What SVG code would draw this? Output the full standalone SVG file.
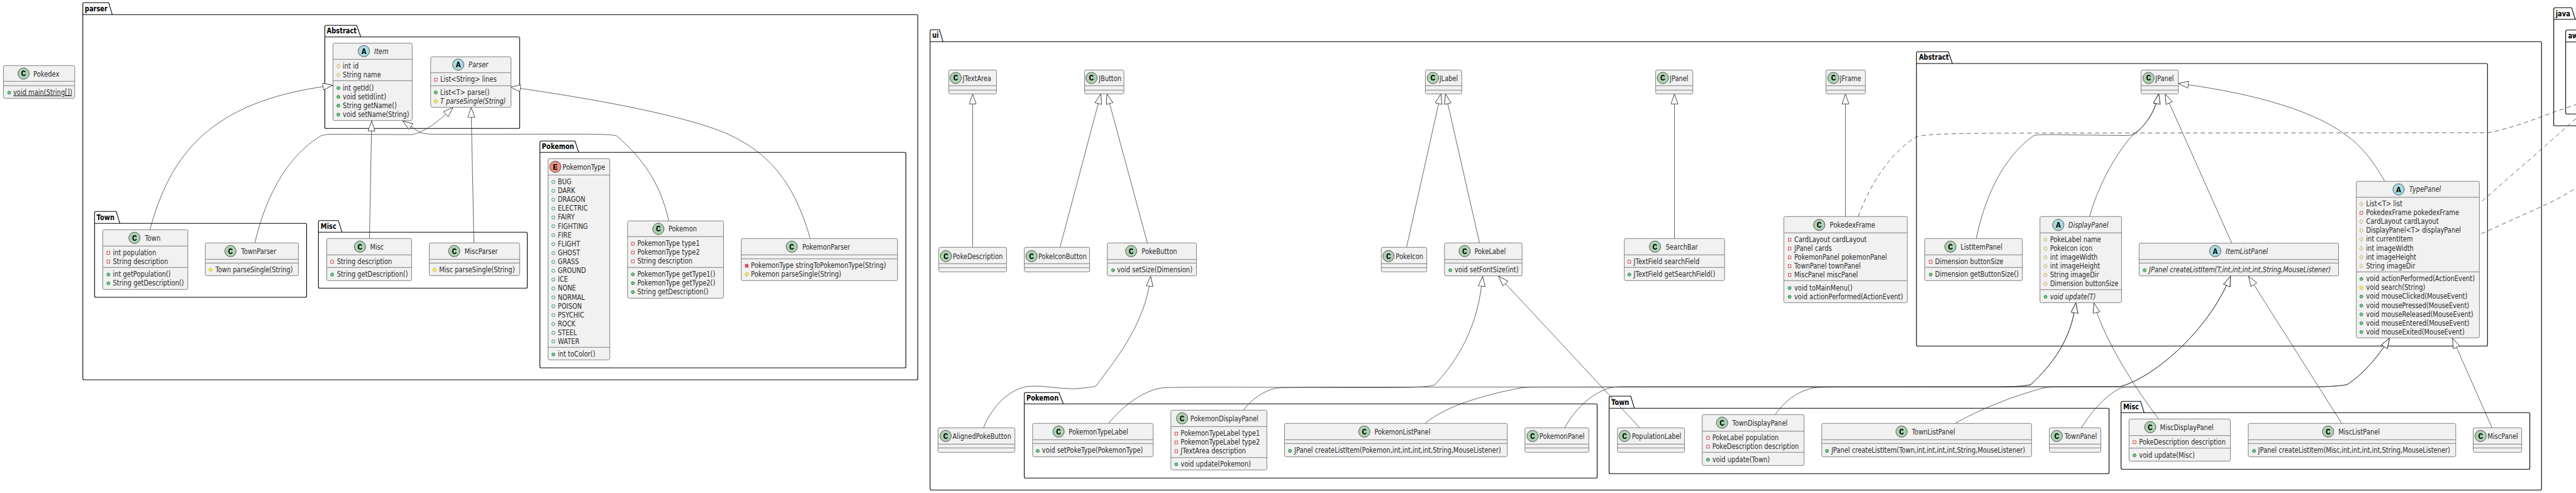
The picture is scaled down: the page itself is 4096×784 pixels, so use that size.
<svg xmlns="http://www.w3.org/2000/svg" width="4096" height="784" viewBox="0 0 4096 784">
<style>
text{font-family:"DejaVu Sans",sans-serif;font-size:12.1px;fill:#2a2a2a}
.i{font-style:italic}
.u{text-decoration:underline}
.p{font-weight:bold;fill:#000}
.pk{fill:none;stroke:#000;stroke-width:1.1}
.b{fill:#f1f1f1;stroke:#808080;stroke-width:1}
.l{fill:none;stroke:#808080;stroke-width:1}
.cc,.ca,.ce{stroke:#333;stroke-width:.8}
.cc{fill:#add1b2}.ca{fill:#a9dcdf}.ce{fill:#eb937f}
.k{font-family:"Liberation Mono",monospace;font-weight:bold;font-size:13px;text-anchor:middle;fill:#000}
.c{fill:none;stroke:#222;stroke-width:.7;marker-end:url(#h)}
.d{fill:none;stroke:#222;stroke-width:.7;stroke-dasharray:7 5}
</style>
<defs>
<marker id="h" markerUnits="userSpaceOnUse" markerWidth="18" markerHeight="13" refX="16.5" refY="6" orient="auto"><path d="M.5,.5L16.5,6L.5,11.5Z" fill="#fff" stroke="#222" stroke-width=".8"/></marker>
<circle id="pub" r="2.5" fill="#84be84" stroke="#038048" stroke-width=".8"/>
<circle id="pubo" r="2.5" fill="none" stroke="#038048" stroke-width=".8"/>
<rect id="pri" x="-2.2" y="-2.4" width="4.4" height="4.8" fill="none" stroke="#c82930" stroke-width=".8"/>
<rect id="prif" x="-2.2" y="-2.4" width="4.4" height="4.8" fill="#f24d5c" stroke="#c82930" stroke-width=".8"/>
<polygon id="pro" points="0,-3.3 2.8,0 0,3.3 -2.8,0" fill="none" stroke="#b38d22" stroke-width=".8"/>
<polygon id="proy" points="0,-3.3 2.8,0 0,3.3 -2.8,0" fill="#ffff44" stroke="#b38d22" stroke-width=".8"/>
</defs>
<g id="packages">
<g id="pkg-parser"><path class="pk" d="M131.7,23.3V6.8q0-2.5 2.5-2.5H172.8L178.6,23.3H1457.3q2,0 2,2V602q0,2-2,2H133.7q-2,0-2-2ZM131.7,23.3H178.6"/><text class="p" transform="translate(134.8 17.7) scale(.818 1)">parser</text></g>
<g id="pkg-parser-abstract"><path class="pk" d="M516.5,58.7V42.8q0-2.5 2.5-2.5H567L573.7,58.7H824.3q2,0 2,2V202.3q0,2-2,2H518.5q-2,0-2-2ZM516.5,58.7H573.7"/><text class="p" transform="translate(519.6 53.3) scale(.818 1)">Abstract</text></g>
<g id="pkg-parser-town"><path class="pk" d="M150.4,355.3V338.8q0-2.5 2.5-2.5H184.8L190.6,355.3H485.5q2,0 2,2V470.7q0,2-2,2H152.4q-2,0-2-2ZM150.4,355.3H190.6"/><text class="p" transform="translate(153.6 350) scale(.818 1)">Town</text></g>
<g id="pkg-parser-misc"><path class="pk" d="M506.3,369.3V353.2q0-2.5 2.5-2.5H538L543.8,369.3H836.4q2,0 2,2V456.3q0,2-2,2H508.3q-2,0-2-2ZM506.3,369.3H543.8"/><text class="p" transform="translate(509.8 364) scale(.818 1)">Misc</text></g>
<g id="pkg-parser-pokemon"><path class="pk" d="M858.5,242.3V226.8q0-2.5 2.5-2.5H914.3L920.1,242.3H1438.4q2,0 2,2V583q0,2-2,2H860.5q-2,0-2-2ZM858.5,242.3H920.1"/><text class="p" transform="translate(861.6 237.3) scale(.818 1)">Pokemon</text></g>
<g id="pkg-ui"><path class="pk" d="M1478.9,66.3V49.8q0-2.5 2.5-2.5H1493.8L1499.5,66.3H4039.2q2,0 2,2V777.3q0,2-2,2H1480.9q-2,0-2-2ZM1478.9,66.3H1499.5"/><text class="p" transform="translate(1482.3 60) scale(.818 1)">ui</text></g>
<g id="pkg-ui-abstract"><path class="pk" d="M3047.3,101V84.8q0-2.5 2.5-2.5H3097.9L3104.4,101H3953.3q2,0 2,2V548.3q0,2-2,2H3049.3q-2,0-2-2ZM3047.3,101H3104.4"/><text class="p" transform="translate(3051.2 95.3) scale(.818 1)">Abstract</text></g>
<g id="pkg-ui-pokemon"><path class="pk" d="M1628.7,642.3V626.8q0-2.5 2.5-2.5H1683.8L1690.7,642.3H2537.6q2,0 2,2V758.3q0,2-2,2H1630.7q-2,0-2-2ZM1628.7,642.3H1690.7"/><text class="p" transform="translate(1632 637) scale(.818 1)">Pokemon</text></g>
<g id="pkg-ui-town"><path class="pk" d="M2558.6,649.3V632.5q0-2.5 2.5-2.5H2593L2598.7,649.3H3351.5q2,0 2,2V751.3q0,2-2,2H2560.6q-2,0-2-2ZM2558.6,649.3H2598.7"/><text class="p" transform="translate(2562 644) scale(.818 1)">Town</text></g>
<g id="pkg-ui-misc"><path class="pk" d="M3372.6,656.3V640.8q0-2.5 2.5-2.5H3403.6L3409.4,656.3H4020.6q2,0 2,2V744.3q0,2-2,2H3374.6q-2,0-2-2ZM3372.6,656.3H3409.4"/><text class="p" transform="translate(3376 651) scale(.818 1)">Misc</text></g>
<g id="pkg-java"><path class="pk" d="M4060.6,30.7V14.8q0-2.5 2.5-2.5H4089L4094.8,30.7H4110V200H4062.6q-2,0-2-2ZM4060.6,30.7H4094.8"/><text class="p" transform="translate(4063.7 25.7) scale(.818 1)">java</text></g>
<g id="pkg-awt"><path class="pk" d="M4079.6,66.7V50.2q0-2.5 2.5-2.5H4110M4110,66.7H4079.6M4110,181.3H4081.6q-2,0-2-2V66.7"/><text class="p" transform="translate(4083.4 60.7) scale(.818 1)">awt</text></g>
</g>
<g id="connectors">
<path class="c" d="M238.4,365C270,250 330,160 529.5,135.7"/>
<path class="c" d="M405.4,386C415,345 440,260 508.9,216.7C515,213.5 525,213.5 536,213.5L656,214C680,208 700,190 720.5,170.7"/>
<path class="c" d="M587.5,379.3L591,192.3"/>
<path class="c" d="M753.6,386.3L749.1,170.7"/>
<path class="c" d="M1063.4,351.3C1050,290 1020,250 980.4,216C970,213.5 950,213.3 900,213.3L712.5,213.5C690,213.5 680,214 667.9,210.7L640.2,192.3"/>
<path class="c" d="M1288.3,379.3C1260,280 1215,240 1157.4,213.3C1110,192 1000,165 811.6,138.3"/>
<path class="c" d="M1546.6,393.3V149.3"/>
<path class="c" d="M1685.5,393.3L1750.4,149.3"/>
<path class="c" d="M1824.4,386.3L1760.2,149.3"/>
<path class="c" d="M1563.8,680.3C1580,640 1610,618 1633.9,614.5C1660,612 1695,621 1720,617.3C1730,616 1738,616 1743,613.3C1780,565 1822,510 1829.6,439.3"/>
<path class="c" d="M2236.5,393.3L2291,149.3"/>
<path class="c" d="M2352.5,386.3L2298.5,149.3"/>
<path class="c" d="M2662.5,379.3V149.3"/>
<path class="c" d="M2934.4,344.3V149.3"/>
<path class="c" d="M1763,673.3C1785,645 1820,620 1849,616.7C1900,614 2200,618 2250,615.7C2265,615 2275,614 2281.3,612C2320,570 2350,520 2357.6,439.3"/>
<path class="c" d="M2607.3,680.3L2382.9,439.3"/>
<path class="c" d="M1977.2,652.3C1990,635 2008,622 2028.7,617.3C2040,615.5 2100,615.5 2200,615.5L3180,615.5C3200,615 3220,614 3229,611.7C3265,578 3293,540 3300.7,481.7"/>
<path class="c" d="M2822.6,659.3C2840,635 2860,622 2884,616.7C2890,615.5 2920,615.5 2950,615.5L3180,615.5C3200,615 3220,614 3229,611.7C3265,578 3293,540 3300.7,481.7"/>
<path class="c" d="M3432.7,666.3C3400,625 3345,540 3329.4,481.7"/>
<path class="c" d="M2265.8,673.3C2300,645 2360,628 2416.2,617.3C2425,615.5 2435,615.5 2450,615.5L3370,615C3420,603 3510,530 3546.7,439.3"/>
<path class="c" d="M3108.6,673.3C3150,650 3200,630 3250.2,616.7C3260,615 3280,615 3300,615L3370,615C3420,603 3510,530 3546.7,439.3"/>
<path class="c" d="M3723.5,673.3L3575.3,439.3"/>
<path class="c" d="M2488,680.3C2505,650 2530,625 2562.6,616C2575,614.5 2590,615 2610,615L3680,615C3700,615 3720,614 3731.8,611.7C3755,597 3780,570 3799.5,537.7"/>
<path class="c" d="M3309.5,680.3C3322,660 3345,630 3372.6,616.7C3385,615 3400,615.5 3420,615.5L3680,615.5C3700,615 3720,614 3731.8,611.7C3755,597 3780,570 3799.5,537.7"/>
<path class="c" d="M3962.5,680.3L3899.5,537.7"/>
<path class="c" d="M3142.3,379.3C3155,320 3180,255 3233,216C3240,213.5 3260,214 3290,214.5L3380,215.5C3385,215.5 3390,215 3393,213C3415,197 3428,175 3432,149.3"/>
<path class="c" d="M3322.5,344.3C3335,300 3360,250 3389.9,216C3415,200 3428,170 3433,149.3"/>
<path class="c" d="M3548.7,386.7L3442.7,149.3"/>
<path class="c" d="M3791.9,288.3C3770,250 3750,228 3728,213.3C3670,170 3560,145 3463.7,132.7"/>
<path class="d" d="M2954.7,344.3C2975,290 3005,245 3045.4,218.3C3060,213 3100,212 3213.8,211.7L3956,211C3990,205 4030,190 4060.6,178.3L4100,165"/>
<path class="d" d="M3946.6,320L4041.6,236.7L4100,185"/>
<path class="d" d="M3945.5,371.7L4041.6,328.3C4060,320 4080,310 4100,296"/>
</g>
<g id="Pokedex"><rect class="b" x="5.4" y="104.3" width="113.4" height="52" rx="2.5"/><path class="l" d="M5.4,129.3H118.8M5.4,136.3H118.8"/><circle class="cc" cx="37.5" cy="117" r="9"/><text class="k" x="37.5" y="121">C</text><text transform="translate(53.1 121.5) scale(.818 1)">Pokedex</text><use href="#pub" x="14.7" y="147.3"/><text class="u" transform="translate(21 150.7) scale(.818 1)">void main(String[])</text></g>
<g id="Item"><rect class="b" x="529.5" y="68.7" width="125.9" height="123" rx="2.5"/><path class="l" d="M529.5,94.3H655.4M529.5,128.3H655.4"/><circle class="ca" cx="578.6" cy="81.3" r="9"/><text class="k" x="578.6" y="85.5">A</text><text class="i" transform="translate(595 86) scale(.818 1)">Item</text>
<use href="#pro" x="538" y="105.3"/><use href="#pro" x="538" y="119.3"/><use href="#pub" x="538" y="140"/><use href="#pub" x="538" y="154.1"/><use href="#pub" x="538" y="168.1"/><use href="#pub" x="538" y="182.3"/>
<g transform="translate(545.1 0) scale(.818 1)"><text y="109">int id</text><text y="123">String name</text><text y="143.7">int getId()</text><text y="157.8">void setId(int)</text><text y="171.8">String getName()</text><text y="186">void setName(String)</text></g></g>
<g id="Parser"><rect class="b" x="684.8" y="90.3" width="127.7" height="80.4" rx="2.5"/><path class="l" d="M684.8,115.7H812.5M684.8,136.3H812.5"/><circle class="ca" cx="728.6" cy="102.7" r="9"/><text class="k" x="728.6" y="106.9">A</text><text class="i" transform="translate(745 107.3) scale(.818 1)">Parser</text>
<use href="#pri" x="692.9" y="126.7"/><use href="#pub" x="692.9" y="147"/><use href="#proy" x="692.9" y="161"/>
<g transform="translate(700 0) scale(.818 1)"><text y="130.3">List&lt;String&gt; lines</text><text y="150.7">List&lt;T&gt; parse()</text><text class="i" y="164.7">T parseSingle(String)</text></g></g>
<g id="Town"><rect class="b" x="163.4" y="365.3" width="135.3" height="95" rx="2.5"/><path class="l" d="M163.4,391.3H298.7M163.4,425.3H298.7"/><circle class="cc" cx="213.8" cy="378.3" r="9"/><text class="k" x="213.8" y="382.5">C</text><text transform="translate(230.4 382.7) scale(.818 1)">Town</text>
<use href="#pri" x="172.3" y="402"/><use href="#pri" x="172.3" y="416"/><use href="#pub" x="172.3" y="436.6"/><use href="#pub" x="172.3" y="450.6"/>
<g transform="translate(179.5 0) scale(.818 1)"><text y="405.7">int population</text><text y="419.7">String description</text><text y="440.3">int getPopulation()</text><text y="454.3">String getDescription()</text></g></g>
<g id="TownParser"><rect class="b" x="326.3" y="386.3" width="148.3" height="52" rx="2.5"/><path class="l" d="M326.3,412.3H474.6M326.3,418.3H474.6"/><circle class="cc" cx="366.5" cy="399.3" r="9"/><text class="k" x="366.5" y="403.5">C</text><text transform="translate(383.5 403.7) scale(.818 1)">TownParser</text><use href="#proy" x="334.8" y="429"/><text transform="translate(342.4 433) scale(.818 1)">Town parseSingle(String)</text></g>
<g id="Misc"><rect class="b" x="519.6" y="379.3" width="134.9" height="67" rx="2.5"/><path class="l" d="M519.6,405.3H654.5M519.6,425.3H654.5"/><circle class="cc" cx="572.3" cy="392.3" r="9"/><text class="k" x="572.3" y="396.5">C</text><text transform="translate(588.4 397) scale(.818 1)">Misc</text><use href="#pri" x="528.1" y="416.3"/><use href="#pub" x="528.1" y="436.6"/>
<g transform="translate(535.7 0) scale(.818 1)"><text y="420">String description</text><text y="440.3">String getDescription()</text></g></g>
<g id="MiscParser"><rect class="b" x="682.6" y="386.3" width="143.7" height="52" rx="2.5"/><path class="l" d="M682.6,412.3H826.3M682.6,418.3H826.3"/><circle class="cc" cx="722.3" cy="399.3" r="9"/><text class="k" x="722.3" y="403.5">C</text><text transform="translate(738.8 403.7) scale(.818 1)">MiscParser</text><use href="#proy" x="691" y="429"/><text transform="translate(698.2 433) scale(.818 1)">Misc parseSingle(String)</text></g>
<g id="PokemonType"><rect class="b" x="871.4" y="252.3" width="98.2" height="320" rx="2.5"/><path class="l" d="M871.4,278.3H969.6M871.4,552.3H969.6"/><circle class="ce" cx="883" cy="265.3" r="9"/><text class="k" x="883" y="269.5">E</text><text transform="translate(894.6 270) scale(.818 1)">PokemonType</text>
<use href="#pubo" x="879.9" y="289.3"/><use href="#pubo" x="879.9" y="303.4"/><use href="#pubo" x="879.9" y="317.6"/><use href="#pubo" x="879.9" y="331.7"/><use href="#pubo" x="879.9" y="345.8"/><use href="#pubo" x="879.9" y="359.9"/><use href="#pubo" x="879.9" y="374"/><use href="#pubo" x="879.9" y="388.2"/><use href="#pubo" x="879.9" y="402.3"/><use href="#pubo" x="879.9" y="416.4"/><use href="#pubo" x="879.9" y="430.5"/><use href="#pubo" x="879.9" y="444.6"/><use href="#pubo" x="879.9" y="458.7"/><use href="#pubo" x="879.9" y="472.9"/><use href="#pubo" x="879.9" y="487"/><use href="#pubo" x="879.9" y="501.1"/><use href="#pubo" x="879.9" y="515.2"/><use href="#pubo" x="879.9" y="529.3"/><use href="#pubo" x="879.9" y="543"/><use href="#pub" x="879.9" y="563.7"/>
<g transform="translate(887 0) scale(.818 1)"><text y="293">BUG</text><text y="307.1">DARK</text><text y="321.3">DRAGON</text><text y="335.4">ELECTRIC</text><text y="349.5">FAIRY</text><text y="363.6">FIGHTING</text><text y="377.7">FIRE</text><text y="391.9">FLIGHT</text><text y="406">GHOST</text><text y="420.1">GRASS</text><text y="434.2">GROUND</text><text y="448.3">ICE</text><text y="462.4">NONE</text><text y="476.6">NORMAL</text><text y="490.7">POISON</text><text y="504.8">PSYCHIC</text><text y="518.9">ROCK</text><text y="533">STEEL</text><text y="546.7">WATER</text><text y="567.3">int toColor()</text></g></g>
<g id="Pokemon"><rect class="b" x="997.8" y="351.3" width="152.6" height="123" rx="2.5"/><path class="l" d="M997.8,376.3H1150.4M997.8,425.3H1150.4"/><circle class="cc" cx="1046.9" cy="364" r="9"/><text class="k" x="1046.9" y="368.2">C</text><text transform="translate(1062.9 368.3) scale(.818 1)">Pokemon</text>
<use href="#pri" x="1006.3" y="387.6"/><use href="#pri" x="1006.3" y="401.6"/><use href="#pri" x="1006.3" y="415.6"/><use href="#pub" x="1006.3" y="436.3"/><use href="#pub" x="1006.3" y="450.3"/><use href="#pub" x="1006.3" y="464.5"/>
<g transform="translate(1013.4 0) scale(.818 1)"><text y="391.3">PokemonType type1</text><text y="405.3">PokemonType type2</text><text y="419.3">String description</text><text y="440">PokemonType getType1()</text><text y="454">PokemonType getType2()</text><text y="468.2">String getDescription()</text></g></g>
<g id="PokemonParser"><rect class="b" x="1178.6" y="379.3" width="248.6" height="67" rx="2.5"/><path class="l" d="M1178.6,405.3H1427.2M1178.6,411.7H1427.2"/><circle class="cc" cx="1259" cy="392.3" r="9"/><text class="k" x="1259" y="396.5">C</text><text transform="translate(1275.7 397) scale(.818 1)">PokemonParser</text><use href="#prif" x="1187.3" y="422.6"/><use href="#proy" x="1187.3" y="436.3"/>
<g transform="translate(1194.1 0) scale(.818 1)"><text y="426.3">PokemonType stringToPokemonType(String)</text><text y="440.3">Pokemon parseSingle(String)</text></g></g>
<g id="JTextArea"><rect class="b" x="1508.7" y="111.3" width="75.8" height="38" rx="2.5"/><path class="l" d="M1508.7,136.3H1584.5M1508.7,143.3H1584.5"/><circle class="cc" cx="1519.6" cy="124" r="9"/><text class="k" x="1519.6" y="128.2">C</text><text transform="translate(1530.5 128.7) scale(.818 1)">JTextArea</text></g>
<g id="JButton"><rect class="b" x="1724.6" y="111.3" width="62.5" height="38" rx="2.5"/><path class="l" d="M1724.6,136.3H1787.1M1724.6,143.3H1787.1"/><circle class="cc" cx="1735.5" cy="124" r="9"/><text class="k" x="1735.5" y="128.2">C</text><text transform="translate(1747 128.7) scale(.818 1)">JButton</text></g>
<g id="JLabel"><rect class="b" x="2266.4" y="111.3" width="57.9" height="38" rx="2.5"/><path class="l" d="M2266.4,136.3H2324.3M2266.4,143.3H2324.3"/><circle class="cc" cx="2278.4" cy="124" r="9"/><text class="k" x="2278.4" y="128.2">C</text><text transform="translate(2288.7 128.7) scale(.818 1)">JLabel</text></g>
<g id="JPanel-ui"><rect class="b" x="2632.6" y="111.3" width="59.1" height="38" rx="2.5"/><path class="l" d="M2632.6,136.3H2691.7M2632.6,143.3H2691.7"/><circle class="cc" cx="2644" cy="124" r="9"/><text class="k" x="2644" y="128.2">C</text><text transform="translate(2655 128.7) scale(.818 1)">JPanel</text></g>
<g id="JFrame"><rect class="b" x="2903.4" y="111.3" width="62.8" height="38" rx="2.5"/><path class="l" d="M2903.4,136.3H2966.2M2903.4,143.3H2966.2"/><circle class="cc" cx="2915.3" cy="124" r="9"/><text class="k" x="2915.3" y="128.2">C</text><text transform="translate(2925.6 128.7) scale(.818 1)">JFrame</text></g>
<g id="JPanel-abstract"><rect class="b" x="3404.4" y="111.3" width="59.3" height="38" rx="2.5"/><path class="l" d="M3404.4,136.3H3463.7M3404.4,143.3H3463.7"/><circle class="cc" cx="3416.3" cy="124" r="9"/><text class="k" x="3416.3" y="128.2">C</text><text transform="translate(3427 128.7) scale(.818 1)">JPanel</text></g>
<g id="PokeDescription"><rect class="b" x="1492.7" y="393.3" width="107.9" height="39" rx="2.5"/><path class="l" d="M1492.7,419.3H1600.6M1492.7,425.7H1600.6"/><circle class="cc" cx="1504.1" cy="407.3" r="9"/><text class="k" x="1504.1" y="411.5">C</text><text transform="translate(1515 411.5) scale(.818 1)">PokeDescription</text></g>
<g id="PokeIconButton"><rect class="b" x="1628.7" y="393.3" width="103.9" height="39" rx="2.5"/><path class="l" d="M1628.7,419.3H1732.6M1628.7,425.7H1732.6"/><circle class="cc" cx="1640.2" cy="407.3" r="9"/><text class="k" x="1640.2" y="411.5">C</text><text transform="translate(1651 411.5) scale(.818 1)">PokeIconButton</text></g>
<g id="PokeButton"><rect class="b" x="1760.7" y="386.3" width="141.8" height="52.4" rx="2.5"/><path class="l" d="M1760.7,412.7H1902.5M1760.7,418.3H1902.5"/><circle class="cc" cx="1798.6" cy="399.3" r="9"/><text class="k" x="1798.6" y="403.5">C</text><text transform="translate(1815.3 403.7) scale(.818 1)">PokeButton</text><use href="#pub" x="1769.9" y="429.7"/><text transform="translate(1776.2 433.3) scale(.818 1)">void setSize(Dimension)</text></g>
<g id="AlignedPokeButton"><rect class="b" x="1491.5" y="680.3" width="122.3" height="39" rx="2.5"/><path class="l" d="M1491.5,706.3H1613.8M1491.5,712.3H1613.8"/><circle class="cc" cx="1503.6" cy="693.3" r="9"/><text class="k" x="1503.6" y="697.5">C</text><text transform="translate(1514.5 698) scale(.818 1)">AlignedPokeButton</text></g>
<g id="PokeIcon"><rect class="b" x="2196.3" y="393.3" width="72.4" height="39" rx="2.5"/><path class="l" d="M2196.3,419.3H2268.7M2196.3,425.7H2268.7"/><circle class="cc" cx="2207.8" cy="407.3" r="9"/><text class="k" x="2207.8" y="411.5">C</text><text transform="translate(2219.3 411.5) scale(.818 1)">PokeIcon</text></g>
<g id="PokeLabel"><rect class="b" x="2296.8" y="386.3" width="123.4" height="52.4" rx="2.5"/><path class="l" d="M2296.8,412.7H2420.2M2296.8,418.3H2420.2"/><circle class="cc" cx="2328.9" cy="399.3" r="9"/><text class="k" x="2328.9" y="403.5">C</text><text transform="translate(2344.4 403.7) scale(.818 1)">PokeLabel</text><use href="#pub" x="2306" y="429.7"/><text transform="translate(2312.9 433.3) scale(.818 1)">void setFontSize(int)</text></g>
<g id="SearchBar"><rect class="b" x="2582.7" y="379.3" width="159.5" height="67" rx="2.5"/><path class="l" d="M2582.7,405.3H2742.2M2582.7,425.3H2742.2"/><circle class="cc" cx="2631.5" cy="392.3" r="9"/><text class="k" x="2631.5" y="396.5">C</text><text transform="translate(2648.7 396.8) scale(.818 1)">SearchBar</text><use href="#pri" x="2590.7" y="416.3"/><use href="#pub" x="2590.7" y="436.6"/>
<g transform="translate(2597.6 0) scale(.818 1)"><text y="420">JTextField searchField</text><text y="440.3">JTextField getSearchField()</text></g></g>
<g id="PokedexFrame"><rect class="b" x="2836.4" y="344.3" width="196.4" height="137" rx="2.5"/><path class="l" d="M2836.4,370.3H3032.8M2836.4,446.3H3032.8"/><circle class="cc" cx="2892.7" cy="357.7" r="9"/><text class="k" x="2892.7" y="361.9">C</text><text transform="translate(2909.6 362) scale(.818 1)">PokedexFrame</text>
<use href="#pri" x="2845.6" y="381.3"/><use href="#pri" x="2845.6" y="395.3"/><use href="#pri" x="2845.6" y="409.3"/><use href="#pri" x="2845.6" y="423.3"/><use href="#pri" x="2845.6" y="437.3"/><use href="#pub" x="2845.6" y="458"/><use href="#pub" x="2845.6" y="472"/>
<g transform="translate(2853 0) scale(.818 1)"><text y="385">CardLayout cardLayout</text><text y="399">JPanel cards</text><text y="413">PokemonPanel pokemonPanel</text><text y="427">TownPanel townPanel</text><text y="441">MiscPanel miscPanel</text><text y="461.7">void toMainMenu()</text><text y="475.7">void actionPerformed(ActionEvent)</text></g></g>
<g id="ListItemPanel"><rect class="b" x="3060.4" y="379.3" width="155.3" height="67" rx="2.5"/><path class="l" d="M3060.4,405.3H3215.7M3060.4,425.3H3215.7"/><circle class="cc" cx="3101.3" cy="392.3" r="9"/><text class="k" x="3101.3" y="396.5">C</text><text transform="translate(3117.4 396.8) scale(.818 1)">ListItemPanel</text><use href="#pri" x="3069.9" y="416.3"/><use href="#pub" x="3069.9" y="436.6"/>
<g transform="translate(3076.8 0) scale(.818 1)"><text y="420">Dimension buttonSize</text><text y="440.3">Dimension getButtonSize()</text></g></g>
<g id="DisplayPanel"><rect class="b" x="3243.7" y="344.3" width="129.7" height="137" rx="2.5"/><path class="l" d="M3243.7,370.3H3373.4M3243.7,460.7H3373.4"/><circle class="ca" cx="3272.8" cy="357.7" r="9"/><text class="k" x="3272.8" y="361.9">A</text><text class="i" transform="translate(3288.8 362) scale(.818 1)">DisplayPanel</text>
<use href="#pro" x="3252.5" y="381.3"/><use href="#pro" x="3252.5" y="395.3"/><use href="#pro" x="3252.5" y="409.3"/><use href="#pro" x="3252.5" y="423.3"/><use href="#pro" x="3252.5" y="437.3"/><use href="#pro" x="3252.5" y="451.3"/><use href="#pub" x="3252.5" y="472"/>
<g transform="translate(3259.7 0) scale(.818 1)"><text y="385">PokeLabel name</text><text y="399">PokeIcon icon</text><text y="413">int imageWidth</text><text y="427">int imageHeight</text><text y="441">String imageDir</text><text y="455">Dimension buttonSize</text><text class="i" y="475.7">void update(T)</text></g></g>
<g id="ItemListPanel"><rect class="b" x="3401.3" y="386.7" width="317.2" height="52" rx="2.5"/><path class="l" d="M3401.3,412.7H3718.5M3401.3,418.3H3718.5"/><circle class="ca" cx="3522.4" cy="399.3" r="9"/><text class="k" x="3522.4" y="403.5">A</text><text class="i" transform="translate(3539.1 403.7) scale(.818 1)">ItemListPanel</text><use href="#pub" x="3410.1" y="429.7"/><text class="i" transform="translate(3417 433.3) scale(.818 1)">JPanel createListItem(T,int,int,int,int,String,MouseListener)</text></g>
<g id="TypePanel"><rect class="b" x="3746.7" y="288.3" width="195.7" height="249" rx="2.5"/><path class="l" d="M3746.7,313.7H3942.4M3746.7,432.3H3942.4"/><circle class="ca" cx="3813.9" cy="301.3" r="9"/><text class="k" x="3813.9" y="305.5">A</text><text class="i" transform="translate(3830.7 305.3) scale(.818 1)">TypePanel</text>
<use href="#pro" x="3754.7" y="324.6"/><use href="#pri" x="3754.7" y="338.6"/><use href="#pro" x="3754.7" y="352.6"/><use href="#pro" x="3754.7" y="366.6"/><use href="#pro" x="3754.7" y="380.8"/><use href="#pro" x="3754.7" y="395"/><use href="#pro" x="3754.7" y="409"/><use href="#pro" x="3754.7" y="423"/><use href="#pub" x="3754.7" y="443.6"/><use href="#proy" x="3754.7" y="457.6"/><use href="#pub" x="3754.7" y="471.6"/><use href="#pub" x="3754.7" y="486"/><use href="#pub" x="3754.7" y="500"/><use href="#pub" x="3754.7" y="514"/><use href="#pub" x="3754.7" y="528"/>
<g transform="translate(3762.3 0) scale(.818 1)"><text y="328.3">List&lt;T&gt; list</text><text y="342.3">PokedexFrame pokedexFrame</text><text y="356.3">CardLayout cardLayout</text><text y="370.3">DisplayPanel&lt;T&gt; displayPanel</text><text y="384.5">int currentItem</text><text y="398.7">int imageWidth</text><text y="412.7">int imageHeight</text><text y="426.7">String imageDir</text><text y="447.3">void actionPerformed(ActionEvent)</text><text y="461.3">void search(String)</text><text y="475.3">void mouseClicked(MouseEvent)</text><text y="489.7">void mousePressed(MouseEvent)</text><text y="503.7">void mouseReleased(MouseEvent)</text><text y="517.7">void mouseEntered(MouseEvent)</text><text y="531.7">void mouseExited(MouseEvent)</text></g></g>
<g id="PokemonTypeLabel"><rect class="b" x="1641.9" y="673.3" width="191.7" height="53" rx="2.5"/><path class="l" d="M1641.9,699.3H1833.6M1641.9,705.3H1833.6"/><circle class="cc" cx="1683.2" cy="686.3" r="9"/><text class="k" x="1683.2" y="690.5">C</text><text transform="translate(1699.3 691) scale(.818 1)">PokemonTypeLabel</text><use href="#pub" x="1650" y="717"/><text transform="translate(1656.8 720.3) scale(.818 1)">void setPokeType(PokemonType)</text></g>
<g id="PokemonDisplayPanel"><rect class="b" x="1861.8" y="652.3" width="152.6" height="95" rx="2.5"/><path class="l" d="M1861.8,678.3H2014.4M1861.8,727.7H2014.4"/><circle class="cc" cx="1879.6" cy="665.3" r="9"/><text class="k" x="1879.6" y="669.5">C</text><text transform="translate(1892.8 670) scale(.818 1)">PokemonDisplayPanel</text><use href="#pri" x="1870.4" y="689.6"/><use href="#pri" x="1870.4" y="703.6"/><use href="#pri" x="1870.4" y="717.6"/><use href="#pub" x="1870.4" y="738.3"/>
<g transform="translate(1877.3 0) scale(.818 1)"><text y="693.3">PokemonTypeLabel type1</text><text y="707.3">PokemonTypeLabel type2</text><text y="721.3">JTextArea description</text><text y="742">void update(Pokemon)</text></g></g>
<g id="PokemonListPanel"><rect class="b" x="2042.5" y="673.3" width="354.2" height="53" rx="2.5"/><path class="l" d="M2042.5,699.3H2396.7M2042.5,705.3H2396.7"/><circle class="cc" cx="2169.3" cy="686.3" r="9"/><text class="k" x="2169.3" y="690.5">C</text><text transform="translate(2185.4 691) scale(.818 1)">PokemonListPanel</text><use href="#pub" x="2051.1" y="717"/><text transform="translate(2058 720.3) scale(.818 1)">JPanel createListItem(Pokemon,int,int,int,int,String,MouseListener)</text></g>
<g id="PokemonPanel"><rect class="b" x="2424.8" y="680.3" width="101.6" height="39" rx="2.5"/><path class="l" d="M2424.8,706.3H2526.4M2424.8,712.3H2526.4"/><circle class="cc" cx="2436.9" cy="693.3" r="9"/><text class="k" x="2436.9" y="697.5">C</text><text transform="translate(2447.8 698) scale(.818 1)">PokemonPanel</text></g>
<g id="PopulationLabel"><rect class="b" x="2571.8" y="680.3" width="106.7" height="39" rx="2.5"/><path class="l" d="M2571.8,706.3H2678.5M2571.8,712.3H2678.5"/><circle class="cc" cx="2583.2" cy="693.3" r="9"/><text class="k" x="2583.2" y="697.5">C</text><text transform="translate(2594.7 698) scale(.818 1)">PopulationLabel</text></g>
<g id="TownDisplayPanel"><rect class="b" x="2706.7" y="659.3" width="161.9" height="81" rx="2.5"/><path class="l" d="M2706.7,685.7H2868.6M2706.7,719.3H2868.6"/><circle class="cc" cx="2738.2" cy="672.3" r="9"/><text class="k" x="2738.2" y="676.5">C</text><text transform="translate(2754.3 677.3) scale(.818 1)">TownDisplayPanel</text><use href="#pri" x="2715.9" y="696.3"/><use href="#pri" x="2715.9" y="710.3"/><use href="#pub" x="2715.9" y="731"/>
<g transform="translate(2722.7 0) scale(.818 1)"><text y="700">PokeLabel population</text><text y="714">PokeDescription description</text><text y="734.7">void update(Town)</text></g></g>
<g id="TownListPanel"><rect class="b" x="2896.7" y="673.3" width="333.6" height="53" rx="2.5"/><path class="l" d="M2896.7,699.3H3230.3M2896.7,705.3H3230.3"/><circle class="cc" cx="3023.6" cy="686.3" r="9"/><text class="k" x="3023.6" y="690.5">C</text><text transform="translate(3040 691) scale(.818 1)">TownListPanel</text><use href="#pub" x="2905" y="717"/><text transform="translate(2911.9 720.3) scale(.818 1)">JPanel createListItem(Town,int,int,int,int,String,MouseListener)</text></g>
<g id="TownPanel"><rect class="b" x="3258.6" y="680.3" width="81.9" height="39" rx="2.5"/><path class="l" d="M3258.6,706.3H3340.5M3258.6,712.3H3340.5"/><circle class="cc" cx="3270.4" cy="693.3" r="9"/><text class="k" x="3270.4" y="697.5">C</text><text transform="translate(3282.7 698) scale(.818 1)">TownPanel</text></g>
<g id="MiscDisplayPanel"><rect class="b" x="3385.3" y="666.3" width="161.1" height="67" rx="2.5"/><path class="l" d="M3385.3,692.7H3546.4M3385.3,712.7H3546.4"/><circle class="cc" cx="3419" cy="679.3" r="9"/><text class="k" x="3419" y="683.5">C</text><text transform="translate(3434.6 684) scale(.818 1)">MiscDisplayPanel</text><use href="#pri" x="3394" y="703.3"/><use href="#pub" x="3394" y="724"/>
<g transform="translate(3401.3 0) scale(.818 1)"><text y="707">PokeDescription description</text><text y="727.7">void update(Misc)</text></g></g>
<g id="MiscListPanel"><rect class="b" x="3574.9" y="673.3" width="329.9" height="53" rx="2.5"/><path class="l" d="M3574.9,699.3H3904.8M3574.9,705.3H3904.8"/><circle class="cc" cx="3701.8" cy="686.3" r="9"/><text class="k" x="3701.8" y="690.5">C</text><text transform="translate(3718.2 691) scale(.818 1)">MiscListPanel</text><use href="#pub" x="3584" y="717"/><text transform="translate(3590.5 720.3) scale(.818 1)">JPanel createListItem(Misc,int,int,int,int,String,MouseListener)</text></g>
<g id="MiscPanel"><rect class="b" x="3932.5" y="680.3" width="77.2" height="39" rx="2.5"/><path class="l" d="M3932.5,706.3H4009.7M3932.5,712.3H4009.7"/><circle class="cc" cx="3944.3" cy="693.3" r="9"/><text class="k" x="3944.3" y="697.5">C</text><text transform="translate(3955.3 698) scale(.818 1)">MiscPanel</text></g>
</svg>
